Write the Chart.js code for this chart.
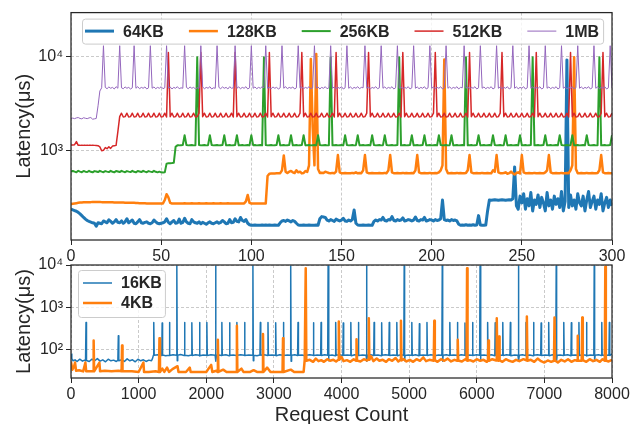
<!DOCTYPE html>
<html>
<head>
<meta charset="utf-8">
<script src="https://cdn.jsdelivr.net/npm/chart.js@4/dist/chart.umd.min.js"></script>
<style>
    body { margin: 0; background: #fff; }
    #wrap { position: relative; width: 639px; height: 424px; }
    canvas { position: absolute; left: 0; }
    #top { top: 0; }
    #bottom { top: 250px; }
</style>
</head>
<body>
<div id="wrap">
    <canvas id="top" width="639" height="262"></canvas>
    <canvas id="bottom" width="639" height="174"></canvas>
</div>
<script>
// Latencia por requisicao (us), indice = numero da requisicao (0..300)
const lat64 = [
    240,236,232,228,222,214,205,196,188,182,
    178,175,172,170,158,172,170,168,180,176,
    172,185,178,170,176,186,174,172,180,170,
    176,190,172,178,184,170,168,176,186,172,
    170,174,176,170,168,172,184,176,170,168,
    170,172,176,190,174,168,176,182,170,172,
    188,170,174,192,176,170,168,186,176,172,
    170,176,168,174,170,166,172,176,170,168,
    172,176,170,174,182,176,168,170,186,172,
    174,190,178,176,196,182,178,186,170,164,
    162,162,163,162,162,162,163,162,163,162,
    163,162,162,163,162,162,172,180,182,178,
    184,180,176,182,178,170,163,162,162,163,
    162,162,163,162,162,162,163,162,190,200,
    198,196,184,180,186,182,178,188,184,180,
    184,192,180,178,184,180,186,235,170,163,
    162,162,163,162,162,163,162,162,178,184,
    180,186,184,196,182,180,186,184,200,182,
    180,186,182,184,194,180,182,186,184,180,
    184,198,182,180,186,184,196,180,182,186,
    184,180,186,182,184,190,300,186,182,184,
    180,186,182,184,180,166,162,163,162,164,
    162,163,162,164,162,163,205,163,162,162,
    163,230,300,298,300,302,300,298,300,302,
    300,298,300,302,300,310,674,260,240,330,
    280,350,240,310,260,360,230,300,270,340,
    250,320,280,230,360,260,300,240,330,270,
    310,250,370,230,290,9200,250,340,260,300,
    240,350,280,260,330,230,300,370,250,290,
    330,240,300,270,350,230,280,320,250,300,
    260
]
const lat128 = [
    272,274,276,278,280,282,283,284,284,285,
    285,285,286,286,286,286,286,285,285,285,
    285,284,284,284,283,283,283,282,282,282,
    281,281,281,280,280,280,279,279,278,278,
    277,277,276,276,275,275,275,275,275,275,
    275,276,300,346,320,280,276,276,276,276,
    276,275,276,277,276,275,276,277,276,275,
    276,277,276,275,276,277,276,275,276,277,
    276,275,276,277,276,275,276,277,276,275,
    276,276,276,276,276,276,276,290,340,280,
    276,276,276,276,276,276,276,276,276,540,
    570,572,574,575,576,576,578,620,890,600,
    580,600,610,590,580,620,590,600,575,580,
    610,595,700,9400,1800,700,10600,640,580,585,
    580,600,590,580,576,582,578,600,900,590,
    578,576,580,576,578,576,582,578,590,576,
    580,578,620,900,590,578,576,580,576,578,
    576,580,578,576,582,578,620,900,590,578,
    576,580,576,578,582,576,580,578,576,580,
    578,620,900,590,578,576,580,578,576,582,
    578,576,580,578,590,620,700,9300,640,578,
    576,580,576,578,582,576,580,578,576,580,
    620,900,590,578,576,580,578,576,582,578,
    576,580,578,576,620,600,900,590,578,576,
    580,590,570,578,600,576,560,580,590,574,
    900,590,578,576,580,578,576,582,578,576,
    580,578,576,590,620,900,590,578,576,580,
    578,576,582,578,576,580,578,620,700,9800,
    640,578,576,580,578,576,582,578,576,580,
    578,576,580,620,900,590,578,576,580,578,
    576
]
const lat256 = [
    600,610,600,590,612,600,592,610,600,595,
    612,598,590,608,602,594,612,600,592,608,
    600,594,612,598,590,610,602,594,612,600,
    592,608,600,594,612,598,590,610,602,594,
    612,600,592,608,600,594,612,598,590,600,
    590,588,590,730,735,738,740,745,1100,1140,
    1140,1145,1150,1460,1150,1140,1145,1150,1140,1145,
    9800,1150,1140,1145,1150,1140,1145,1460,1150,1140,
    1145,1150,1140,1145,1150,1460,1140,1145,1150,1140,
    1145,1150,1460,1140,1145,1150,1140,1145,1150,1140,
    1460,1145,1150,1140,1145,1150,1140,9800,1150,1140,
    1145,1150,1140,1145,1150,1460,1140,1145,1150,1140,
    1145,1150,1460,1140,1145,1150,1140,1145,1150,1460,
    1140,1145,1150,1140,1145,1150,1140,1460,1150,1140,
    1145,1150,1140,1145,9800,1140,1145,1150,1140,1145,
    1150,1140,1460,1150,1140,1145,1150,1140,1145,1460,
    1140,1145,1150,1140,1145,1150,1140,1460,1150,1140,
    1145,1150,1140,1145,1460,1150,1140,1145,1150,1140,
    1145,1150,9800,1140,1145,1150,1140,1145,1150,1460,
    1140,1145,1150,1140,1145,1150,1460,1140,1145,1150,
    1140,1145,1150,1140,1460,1150,1140,1145,1150,1140,
    1145,1460,1140,1145,1150,1140,1145,1150,1140,9800,
    1140,1145,1150,1140,1145,1150,1460,1140,1145,1150,
    1140,1145,1150,1140,1460,1150,1140,1145,1150,1140,
    1145,1460,1140,1145,1150,1140,1145,1150,1140,1460,
    1140,1145,1150,1140,1145,1150,9800,1140,1145,1150,
    1140,1145,1150,1460,1140,1145,1150,1140,1145,1150,
    1140,1460,1150,1140,1145,1150,1140,1145,1460,1140,
    1145,1150,1140,1145,1150,1140,1460,1150,1140,1145,
    1150,1140,1145,9800,1140,1145,1150,1140,1145,1150,
    1460
]
const lat512 = [
    1150,1150,1160,1250,1140,1140,1145,1140,1140,1145,
    1140,1140,1145,1140,1135,1130,1100,1000,1010,1080,
    1050,1100,1060,1120,1130,1140,1600,2300,2500,2280,
    2300,2500,2280,2300,2500,2280,2300,2500,2280,2300,
    2500,2280,2300,2500,2280,2300,2500,2280,2300,2500,
    2280,2300,2500,2280,11000,2300,2500,2280,2300,2500,
    2280,2300,2500,2280,2300,2500,2280,2300,2500,2280,
    2300,2500,11000,2300,2500,2280,2300,2500,2280,2300,
    2500,2280,2300,2500,2280,2300,2500,2280,2300,2500,
    2280,11000,2300,2500,2280,2300,2500,2280,2300,2500,
    2280,2300,2500,2280,2300,2500,2280,2300,2500,2280,
    11000,2300,2500,2280,2300,2500,2280,2300,2500,2280,
    2300,2500,2280,2300,2500,2280,2300,2500,11000,2300,
    2500,2280,2300,2500,2280,2300,2500,2280,2300,2500,
    2280,2300,2500,2280,2300,2500,2280,11000,2300,2500,
    2280,2300,2500,2280,2300,2500,2280,2300,2500,2280,
    2300,2500,2280,2300,2500,11000,2300,2500,2280,2300,
    2500,2280,2300,2500,2280,2300,2500,2280,2300,2500,
    2280,2300,2500,2280,11000,2300,2500,2280,2300,2500,
    2280,2300,2500,2280,2300,2500,2280,2300,2500,2280,
    2300,2500,11000,2300,2500,2280,2300,2500,2280,2300,
    2500,2280,2300,2500,2280,2300,2500,2280,2300,2500,
    2280,11000,2300,2500,2280,2300,2500,2280,2300,2500,
    2280,2300,2500,2280,2300,2500,2280,2300,2500,11000,
    2300,2500,2280,2300,2500,2280,2300,2500,2280,2300,
    2500,2280,2300,2500,2280,2300,2500,2280,11000,2300,
    2500,2280,2300,2500,2280,2300,2500,2280,2300,2500,
    2280,2300,2500,2280,2300,2500,2280,11000,2300,2500,
    2280,2300,2500,2280,2300,2500,2280,2300,2500,2280,
    2300,2500,2280,2300,2500,11000,2300,2500,2280,2300,
    2500
]
const lat1M = [
    2200,2220,2190,2230,2250,2200,2180,2240,2210,2190,
    2230,2250,2160,2180,2200,3000,4300,4650,13000,4700,
    4550,4750,4600,4700,4520,4780,4600,13000,4650,4550,
    4750,4600,4700,4520,4650,13000,4600,4780,4550,4700,
    4600,4750,4520,4650,13000,4600,4750,4550,4700,4600,
    4780,4550,4650,13000,4600,4750,4520,4700,4600,4780,
    4550,4650,4600,13000,4700,4550,4750,4600,4700,4520,
    4650,4600,13000,4750,4550,4700,4600,4780,4520,4650,
    4600,13000,4700,4550,4750,4600,4700,4520,4780,4600,
    4650,13000,4600,4750,4550,4700,4600,4780,4520,4650,
    13000,4600,4750,4550,4700,4600,4780,4650,13000,4600,
    4700,4550,4750,4600,4700,4520,4650,13000,4600,4780,
    4550,4700,4600,4750,4520,4650,13000,4600,4750,4550,
    4700,4600,4780,4550,4650,13000,4600,4750,4520,4700,
    4600,4780,4550,4650,13000,4600,4750,4550,4700,4600,
    4780,4520,4650,13000,4600,4750,4550,4700,4600,4780,
    4550,4700,4650,13000,4600,4750,4520,4700,4600,4780,
    4550,4650,13000,4600,4750,4550,4700,4600,4780,4520,
    4650,13000,4600,4750,4550,4700,4600,4780,4520,4650,
    13000,4600,4750,4550,4700,4600,4780,4520,4650,13000,
    4600,4750,4550,4700,4600,4780,4520,4650,13000,4600,
    4750,4550,4700,4600,4780,4520,4700,4650,13000,4600,
    4750,4550,4700,4600,4780,4520,4650,13000,4600,4750,
    4550,4700,4600,4780,4520,4650,13000,4600,4750,4550,
    4700,4600,4780,4520,4650,13000,4600,4750,4550,4700,
    4600,4780,4520,4650,13000,4600,4750,4550,4700,4600,
    4780,4520,4650,13000,4600,4750,4550,4700,4600,4780,
    4520,4650,13000,4600,4750,4550,4700,4600,4780,4520,
    4650,13000,4600,4750,4550,4700,4600,4780,4520,4650,
    13000,4600,4750,4550,4700,4600,4780,4520,4650,13000,
    4600
]

// Grafico de baixo: [requisicao, latencia us]
const lat16k = [
    [0,80],[12,62],[30,55],[60,58],[90,53],[130,60],[170,54],[200,57],[215,55],[222,440],[229,56],
    [270,53],[310,60],[350,55],[390,62],[430,54],[470,58],[510,52],[550,60],[590,55],[630,57],
    [670,53],[693,56],[700,213],[707,55],[750,58],[790,53],[830,61],[870,55],[910,58],[950,52],
    [990,60],[1030,55],[1070,58],[1110,53],[1150,57],[1190,55],[1205,62],[1218,74],
    [1224,440],[1230,74],[1285,76],[1342,73],[1348,430],[1354,75],[1400,72],[1450,74],[1456,440],[1462,73],
    [1510,76],[1559,74],[1565,9500],[1571,55],[1578,74],[1620,77],[1673,73],[1679,440],[1685,74],
    [1735,72],[1781,75],[1787,435],[1793,73],[1845,76],[1895,74],[1901,440],[1907,72],[1955,75],
    [2003,74],[2009,440],[2015,73],[2070,76],[2132,74],[2138,9500],[2144,54],[2151,74],[2190,75],
    [2225,73],[2231,440],[2237,74],[2290,76],[2339,72],[2345,435],[2351,74],[2400,75],[2447,73],
    [2453,440],[2459,74],[2510,76],[2561,74],[2567,440],[2573,73],[2630,75],[2684,74],[2690,9500],
    [2696,55],[2703,74],[2750,72],[2794,75],[2800,440],[2806,74],[2860,76],[2907,73],[2913,440],
    [2919,74],[2970,75],[3021,74],[3027,435],[3033,72],[3085,76],[3135,74],[3141,440],[3147,73],
    [3200,75],[3243,74],[3249,9500],[3255,54],[3262,74],[3310,76],[3351,73],[3357,440],[3363,74],
    [3415,75],[3465,72],[3471,440],[3477,74],[3530,76],[3579,74],[3585,435],[3591,73],[3640,75],
    [3692,74],[3698,440],[3704,73],[3750,76],[3796,74],[3802,9500],[3808,55],[3815,73],
    [3860,75],[3908,72],[3914,440],[3920,74],[3970,76],[4020,73],[4026,430],[4032,74],[4085,75],
    [4132,74],[4138,440],[4144,72],[4195,76],[4244,74],[4250,440],[4256,73],[4310,75],[4364,74],
    [4370,9500],[4376,54],[4383,74],[4430,76],[4476,73],[4482,440],[4488,74],[4540,75],[4588,72],
    [4594,435],[4600,74],[4650,76],[4700,74],[4706,440],[4712,73],[4765,75],[4812,74],[4818,440],
    [4824,72],[4875,76],[4921,74],[4927,9500],[4933,55],[4940,73],[4990,75],[5034,74],[5040,440],
    [5046,73],[5095,76],[5146,72],[5152,410],[5158,74],[5210,75],[5258,74],[5264,440],[5270,73],
    [5320,76],[5370,74],[5376,435],[5382,72],[5435,75],[5484,74],[5490,9500],[5496,54],[5503,74],
    [5550,76],[5596,73],[5602,440],[5608,74],[5660,75],[5708,74],[5714,440],[5720,72],[5770,76],
    [5820,74],[5826,430],[5832,73],[5885,75],[5932,74],[5938,440],[5944,73],[5995,76],[6043,74],
    [6049,9500],[6055,55],[6062,74],[6110,75],[6155,73],[6161,440],[6167,74],[6220,76],[6267,72],
    [6273,435],[6279,74],[6330,75],[6379,74],[6385,440],[6391,73],[6440,76],[6491,74],[6497,440],
    [6503,72],[6560,75],[6610,74],[6616,9500],[6622,54],[6629,74],[6675,76],[6722,73],[6728,440],
    [6734,74],[6785,75],[6834,72],[6840,440],[6846,74],[6895,76],[6946,74],[6952,430],[6958,73],
    [7010,75],[7058,74],[7064,440],[7070,72],[7120,76],[7169,74],[7175,9500],[7181,55],[7188,74],
    [7235,75],[7281,73],[7287,440],[7293,74],[7345,76],[7393,72],[7399,435],[7405,74],[7455,75],
    [7505,74],[7511,440],[7517,73],[7565,76],[7617,74],[7623,440],[7629,72],[7680,75],[7731,74],
    [7737,9500],[7743,54],[7750,74],[7800,76],[7843,73],[7849,440],[7855,74],[7905,75],[7955,74],
    [7961,440],[7967,73],[8000,80]
]
const lat4k = [
    [0,52],[20,34],[45,40],[60,50],[75,32],[120,33],[180,31],[213,50],[225,31],[300,31],
    [328,31],[335,165],[342,31],[420,50],[430,31],[500,32],[600,31],[700,32],[748,31],[755,126],
    [762,31],[900,31],[1000,30],[1071,50],[1080,30],[1150,30],[1250,31],[1300,30],[1308,188],
    [1316,30],[1350,36],[1380,30],[1420,38],[1450,30],[1500,35],[1575,41],[1590,30],[1700,30],
    [1756,38],[1770,30],[1900,30],[2000,30],[2073,44],[2090,30],[2150,32],[2165,30],[2172,172],
    [2180,30],[2250,34],[2300,30],[2400,30],[2446,30],[2453,367],[2460,30],[2520,36],[2550,30],
    [2650,30],[2700,33],[2750,30],[2800,30],[2832,30],[2839,237],[2846,30],[2900,38],[2950,30],
    [3050,30],[3128,30],[3135,188],[3142,30],[3250,34],[3300,30],[3400,30],[3440,30],[3456,58],
    [3471,8400],[3480,55],[3530,58],[3580,52],[3620,62],[3660,54],[3700,57],[3740,52],[3790,60],
    [3830,55],[3880,58],[3920,53],[3952,58],[3960,463],[3968,58],[4000,68],[4030,54],[4080,57],
    [4130,52],[4180,60],[4215,55],[4222,178],[4230,56],[4280,53],[4330,60],[4380,56],[4396,60],
    [4404,556],[4412,58],[4440,70],[4470,54],[4520,62],[4560,55],[4610,58],[4660,52],[4700,60],
    [4750,55],[4800,64],[4840,53],[4871,58],[4879,481],[4887,56],[4920,60],[4960,53],[5010,58],
    [5060,52],[5110,60],[5160,55],[5210,66],[5250,54],[5300,58],[5364,55],[5372,481],[5380,57],
    [5420,52],[5470,60],[5520,55],[5570,62],[5620,53],[5670,58],[5712,55],[5719,172],[5726,56],
    [5780,53],[5830,60],[5850,56],[5857,8400],[5864,55],[5900,57],[5950,53],[6000,60],[6050,55],
    [6100,58],[6150,52],[6165,56],[6172,165],[6180,55],[6230,60],[6288,56],[6296,556],[6304,58],
    [6322,55],[6330,205],[6338,56],[6380,52],[6430,60],[6480,55],[6530,52],[6580,58],[6630,54],
    [6690,60],[6733,56],[6741,608],[6749,55],[6800,58],[6850,52],[6900,62],[6950,54],[7000,50],
    [7050,56],[7100,52],[7142,55],[7150,575],[7158,56],[7200,50],[7250,58],[7300,53],[7350,60],
    [7400,52],[7450,57],[7483,55],[7490,213],[7497,56],[7552,55],[7560,575],[7568,57],[7620,52],
    [7670,60],[7720,54],[7770,58],[7820,52],[7860,60],[7893,55],[7901,9100],[7909,56],[7950,53],
    [8000,58]
]

const ticksTopY = [1000, 10000]
const ticksBottomY = [100, 1000, 10000]
const expoente = { 100: '10²', 1000: '10³', 10000: '10⁴' }

Chart.defaults.font.family = '"Liberation Sans", Arial, sans-serif'
Chart.defaults.font.size = 16
Chart.defaults.color = '#262626'

const ink = '#262626'
const gridOpts = { color: '#bdbdbd', lineWidth: 0.8, tickLength: 5, tickColor: ink, tickWidth: 1, tickBorderDash: [] }
const borderOpts = { display: false, dash: [3, 2] }

const porIndice = vals => vals.map((y, i) => ({ x: i, y: y }))
const porPar = pares => pares.map(p => ({ x: p[0], y: p[1] }))

function serie(label, cor, largura, data) {
    return {
        label: label, data: data, borderColor: cor, backgroundColor: cor,
        borderWidth: largura, pointRadius: 0, tension: 0, fill: false,
        borderJoinStyle: 'round'
    }
}

function eixoX(max, passo, altura, titulo) {
    return {
        type: 'linear', min: 0, max: max,
        ticks: { stepSize: passo, padding: 2, maxRotation: 0, autoSkip: false, callback: v => String(v) },
        grid: gridOpts,
        border: borderOpts,
        title: { display: !!titulo, text: titulo || '', font: { size: 20, lineHeight: 0.9 }, padding: 0 },
        afterFit: s => { s.height = altura }
    }
}

function eixoY(min, max, valores) {
    return {
        type: 'logarithmic', min: min, max: max,
        afterBuildTicks: s => { s.ticks = valores.map(v => ({ value: v })) },
        ticks: { callback: v => expoente[v], padding: 3 },
        grid: gridOpts,
        border: borderOpts,
        title: { display: true, text: 'Latency(μs)', font: { size: 20 }, padding: { top: 12, bottom: 0 } },
        afterFit: s => { s.width = 71 }
    }
}

// legenda com caixa, desenhada dentro da area do grafico
const legendaCaixa = {
    id: 'legendaCaixa',
    afterDatasetsDraw(chart, args, opts) {
        const ctx = chart.ctx
        const area = chart.chartArea
        const itens = opts.ordem.map(i => chart.data.datasets[i])
        ctx.save()
        ctx.font = 'bold 16px "Liberation Sans", Arial, sans-serif'
        const larg = itens.map(d => ctx.measureText(d.label).width)
        const linha = 29, gap = 9
        let w
        if (opts.linha) {
            w = opts.pad + larg.reduce((s, t) => s + linha + gap + t, 0) + opts.colGap * (itens.length - 1) + opts.padR
        } else {
            w = opts.pad + linha + gap + Math.max(...larg) + opts.padR
        }
        const x0 = area.left + opts.dx, y0 = area.top + opts.dy
        ctx.beginPath()
        ctx.roundRect(x0 + 0.5, y0 + 0.5, w, opts.altura, 3)
        ctx.fillStyle = 'rgba(255,255,255,0.8)'
        ctx.fill()
        ctx.strokeStyle = '#cccccc'
        ctx.lineWidth = 1
        ctx.stroke()
        ctx.textBaseline = 'middle'
        let x = x0 + opts.pad, y = y0 + opts.primeira
        itens.forEach((d, k) => {
            ctx.beginPath()
            ctx.moveTo(x, y)
            ctx.lineTo(x + linha, y)
            ctx.strokeStyle = d.borderColor
            ctx.lineWidth = d.borderWidth
            ctx.stroke()
            ctx.fillStyle = ink
            ctx.fillText(d.label, x + linha + gap, y + 1)
            if (opts.linha) x += linha + gap + larg[k] + opts.colGap
            else y += opts.rowGap
        })
        ctx.restore()
    }
}

const moldura = {
    id: 'moldura',
    afterDraw(chart) {
        const ctx = chart.ctx
        const a = chart.chartArea
        ctx.save()
        ctx.strokeStyle = ink
        ctx.lineWidth = 1.25
        ctx.strokeRect(a.left, a.top, a.right - a.left, a.bottom - a.top)
        ctx.restore()
    }
}

new Chart(document.getElementById('top'), {
    type: 'line',
    data: {
        datasets: [
            serie('1MB', '#9467bd', 1, porIndice(lat1M)),
            serie('512KB', '#d62728', 1.5, porIndice(lat512)),
            serie('256KB', '#2ca02c', 2, porIndice(lat256)),
            serie('128KB', '#ff7f0e', 2.5, porIndice(lat128)),
            serie('64KB', '#1f77b4', 3, porIndice(lat64))
        ]
    },
    options: {
        responsive: false,
        animation: false,
        devicePixelRatio: 1,
        layout: { padding: { top: 12, right: 27, left: 0, bottom: 0 } },
        scales: {
            x: eixoX(300, 50, 22, null),
            y: eixoY(113, 29200, ticksTopY)
        },
        plugins: {
            legend: { display: false },
            tooltip: { enabled: false },
            legendaCaixa: { ordem: [4, 3, 2, 1, 0], linha: true, dx: 11, dy: 6, altura: 25, primeira: 12.5, pad: 3, padR: 4, colGap: 25 }
        }
    },
    plugins: [legendaCaixa, moldura]
})

new Chart(document.getElementById('bottom'), {
    type: 'line',
    data: {
        datasets: [
            serie('4KB', '#ff7f0e', 2.5, porPar(lat4k)),
            serie('16KB', '#1f77b4', 1.5, porPar(lat16k))
        ]
    },
    options: {
        responsive: false,
        animation: false,
        devicePixelRatio: 1,
        layout: { padding: { top: 15, right: 27, left: 0, bottom: 0 } },
        scales: {
            x: eixoX(8000, 1000, 46, 'Request Count'),
            y: eixoY(21.6, 10000, ticksBottomY)
        },
        plugins: {
            legend: { display: false },
            tooltip: { enabled: false },
            legendaCaixa: { ordem: [1, 0], linha: false, dx: 7, dy: 5, altura: 47, primeira: 13, rowGap: 20, pad: 5, padR: 3 }
        }
    },
    plugins: [legendaCaixa, moldura]
})
</script>
</body>
</html>
